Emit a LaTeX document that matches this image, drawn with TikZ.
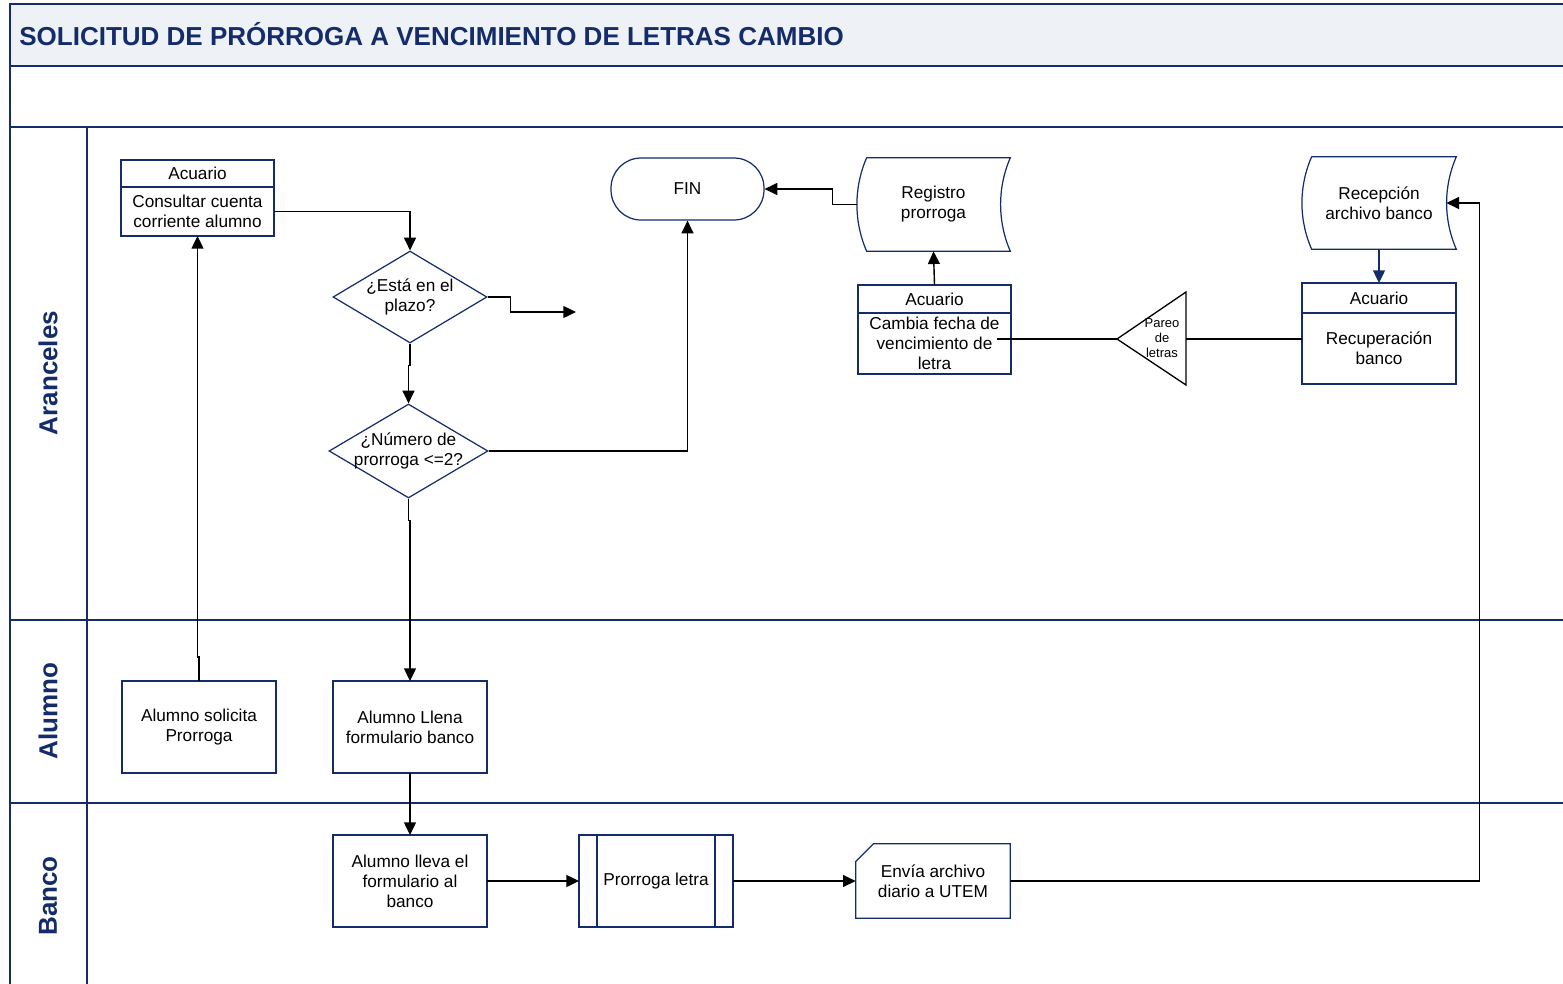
\documentclass[tikz,border=0pt]{standalone}
\usepackage{fontspec}
\setmainfont{Liberation Sans}
\usetikzlibrary{arrows.meta,positioning,shapes.geometric}
\definecolor{azul}{RGB}{20,44,106}
\definecolor{fondotit}{RGB}{238,241,246}

\begin{document}
\begin{tikzpicture}[x=0.02cm, y=-0.02cm, >={Triangle[length=7.2pt,width=6.8pt]},
    every node/.style={font=\fontsize{9.8}{11.4}\selectfont, align=center},
    carril/.style={azul, line width=1.1pt},
    borde/.style={azul, line width=0.7pt},
    caja/.style={draw=azul, line width=0.7pt, minimum width=3.08cm, minimum height=1.84cm, inner sep=1pt, outer sep=0pt},
    cabecera/.style={caja, minimum width=3.06cm, minimum height=0.54cm},
    decision/.style={diamond, draw=azul, line width=0.7pt, minimum width=3.08cm, minimum height=1.84cm, inner sep=0pt},
    hueco/.style={minimum width=3.06cm, minimum height=1.86cm, inner sep=1pt},
    flujo/.style={->, line width=0.8pt}]
    \useasboundingbox (0,0) rectangle (1563,984);

    % Carriles
    \fill[fondotit] (10,4) rectangle (1563,66);
    \draw[carril] (1563,4) -- (10,4) -- (10,984);
    \draw[carril] (10,66) -- (1563,66);
    \draw[carril] (10,127) -- (1563,127);
    \draw[carril] (10,620) -- (1563,620);
    \draw[carril] (10,803) -- (1563,803);
    \draw[carril] (87,127) -- (87,984);
    \node[anchor=west, inner sep=0pt, text=azul, font=\bfseries\fontsize{14.8}{17}\selectfont] (titulo) at (19,34) {SOLICITUD DE PRÓRROGA A VENCIMIENTO DE LETRAS CAMBIO};
    \node[rotate=90, text=azul, font=\bfseries\fontsize{14.8}{17}\selectfont] (l-aranceles) at (48,373) {Aranceles};
    \node[rotate=90, text=azul, font=\bfseries\fontsize{14.8}{17}\selectfont] (l-alumno) at (48,711) {Alumno};
    \node[rotate=90, text=azul, font=\bfseries\fontsize{14.8}{17}\selectfont] (l-banco) at (48,896) {Banco};

    % Aranceles
    \node[cabecera] (cons-h) at (197.5,173.5) {Acuario};
    \node[cabecera, minimum height=0.98cm, below=0pt of cons-h] (cons) {Consultar cuenta\\corriente alumno};
    \node[decision, label={center:{¿Está en el\\plazo?}}] (plazo) at (410,297) {};
    \node[decision, minimum width=3.18cm, minimum height=1.88cm, label={center:{¿Número de\\prorroga <=2?}}] (numero) at (408.5,451) {};
    \coordinate (plazo-no) at (576,312);
    \node[draw=azul, line width=0.7pt, rounded corners=0.6cm, minimum width=3.06cm, minimum height=1.24cm] (fin) at (687.5,189) {FIN};

    \node[hueco] (reg) at (933.5,204.5) {Registro\\prorroga};
    \draw[borde] ([xshift=0.2cm]reg.north west) -- (reg.north east)
        .. controls ([xshift=-0.26cm,yshift=-0.6cm]reg.north east) and ([xshift=-0.26cm,yshift=0.6cm]reg.south east) .. (reg.south east)
        -- ([xshift=0.2cm]reg.south west)
        .. controls ([xshift=-0.06cm,yshift=0.6cm]reg.south west) and ([xshift=-0.06cm,yshift=-0.6cm]reg.north west) .. ([xshift=0.2cm]reg.north west);

    \node[cabecera, minimum height=0.56cm] (camb-h) at (934.5,299) {Acuario};
    \node[cabecera, minimum height=1.22cm, below=0pt of camb-h] (camb) {Cambia fecha de\\vencimiento de\\letra};

    \coordinate (pareo-punta) at (1117,339);
    \coordinate (pareo-base) at (1186,339);
    \draw[line width=0.75pt] (pareo-punta) -- (1186,292) -- (1186,385) -- cycle;
    \node[font=\fontsize{7.4}{8.5}\selectfont, inner sep=0pt] (pareo) at (1162,338) {Pareo\\de\\letras};

    \node[hueco, minimum width=3.08cm, minimum height=1.84cm] (rec) at (1379,203) {Recepción\\archivo banco};
    \draw[borde] ([xshift=0.2cm]rec.north west) -- (rec.north east)
        .. controls ([xshift=-0.26cm,yshift=-0.6cm]rec.north east) and ([xshift=-0.26cm,yshift=0.6cm]rec.south east) .. (rec.south east)
        -- ([xshift=0.2cm]rec.south west)
        .. controls ([xshift=-0.06cm,yshift=0.6cm]rec.south west) and ([xshift=-0.06cm,yshift=-0.6cm]rec.north west) .. ([xshift=0.2cm]rec.north west);

    \node[cabecera, minimum width=3.08cm, minimum height=0.6cm] (recu-h) at (1379,298) {Acuario};
    \node[cabecera, minimum width=3.08cm, minimum height=1.42cm, below=0pt of recu-h] (recu) {Recuperación\\banco};

    % Alumno
    \node[caja] (solicita) at (199,727) {Alumno solicita\\Prorroga};
    \node[caja] (llena) at (410,727) {Alumno Llena\\formulario banco};

    % Banco
    \node[caja] (lleva) at (410,881) {Alumno lleva el\\formulario al\\banco};
    \node[caja] (proletra) at (656,881) {Prorroga letra};
    \draw[borde] ([xshift=0.36cm]proletra.north west) -- ([xshift=0.36cm]proletra.south west);
    \draw[borde] ([xshift=-0.36cm]proletra.north east) -- ([xshift=-0.36cm]proletra.south east);
    \node[minimum width=3.08cm, minimum height=1.48cm, inner sep=1pt] (envia) at (933,881) {Envía archivo\\diario a UTEM};
    \draw[borde] (envia.south west) -- ([yshift=-0.36cm]envia.north west) -- ([xshift=0.36cm]envia.north west)
        -- (envia.north east) -- (envia.south east) -- cycle;

    % Flujos
    \draw[flujo] (solicita.north) -- ++(0,-24) -| (cons.south);
    \draw[flujo] (cons.east) -| (plazo.north);
    \draw[flujo] (plazo.east) -- ++(23,0) |- (plazo-no);
    \draw[flujo] (plazo.south) -- ++(0,22) -| (numero.north);
    \draw[flujo] (numero.east) -| (fin.south);
    \draw[flujo] (numero.south) -- ++(0,22) -| (llena.north);
    \draw[flujo] (reg.west) -- ++(-24,0) |- (fin.east);
    \draw[flujo] (camb-h.north) -- (reg.south);
    \draw[line width=0.8pt] (pareo-punta) -- ([xshift=-0.28cm]pareo-punta -| camb.east);
    \draw[line width=0.8pt] (pareo-base) -- (pareo-base -| recu.west);
    \draw[flujo, azul] (rec.south) -- (recu-h.north);
    \draw[flujo] (llena.south) -- (lleva.north);
    \draw[flujo] (lleva.east) -- (proletra.west);
    \draw[flujo] (proletra.east) -- (envia.west);
    \draw[flujo] (envia.east) -- ++(469,0) |- ([xshift=-0.2cm]rec.east);
\end{tikzpicture}
\end{document}
